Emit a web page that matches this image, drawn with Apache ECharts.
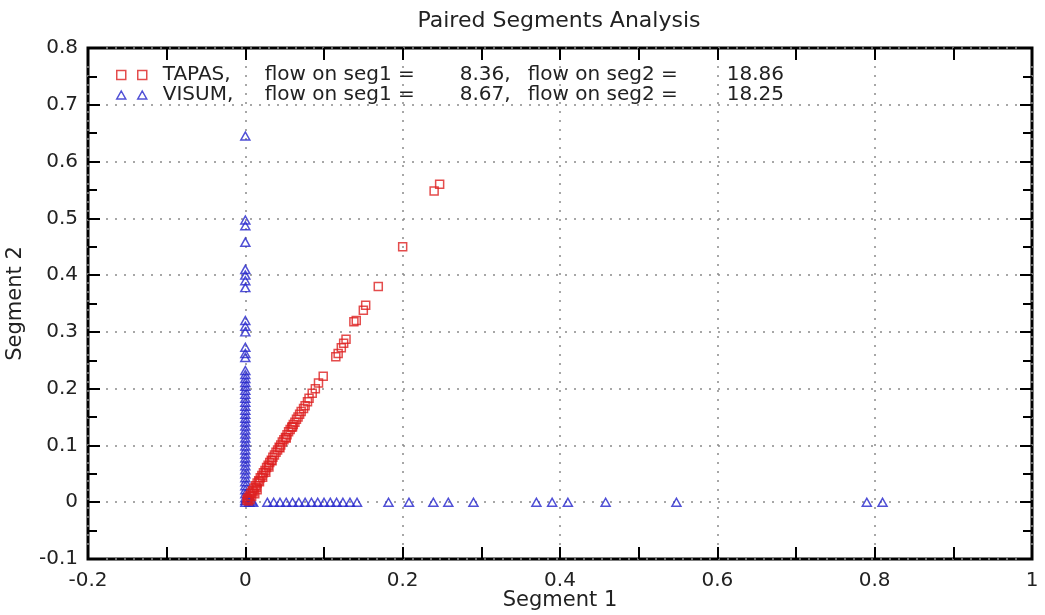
<!DOCTYPE html>
<html lang="en">
<head>
    <meta charset="UTF-8">
    <title>Paired Segments Analysis</title>
    <script src="https://cdn.jsdelivr.net/npm/echarts/dist/echarts.min.js"></script>
    <style>
        html, body { margin: 0; padding: 0; background: #fff; }
        #chart { width: 1045px; height: 615px; }
    </style>
</head>
<body>
    <div id="chart"></div>
    <script>
        var FONT = 'DejaVu Sans';

        // TAPAS: [segment 1, segment 2]
        var tapasPoints = [
            [0.247, 0.560], [0.240, 0.548], [0.200, 0.450], [0.169, 0.380],
            [0.153, 0.347], [0.150, 0.338], [0.141, 0.320], [0.138, 0.318],
            [0.128, 0.287], [0.125, 0.280], [0.122, 0.272], [0.118, 0.262],
            [0.115, 0.256], [0.099, 0.222], [0.093, 0.210], [0.089, 0.200],
            [0.085, 0.192], [0.081, 0.183], [0.079, 0.177], [0.076, 0.170],
            [0.074, 0.165], [0.071, 0.160], [0.069, 0.155], [0.067, 0.150],
            [0.065, 0.146], [0.063, 0.141], [0.061, 0.137], [0.059, 0.132],
            [0.057, 0.128], [0.055, 0.124], [0.053, 0.119], [0.051, 0.114],
            [0.049, 0.110], [0.047, 0.106], [0.045, 0.101], [0.043, 0.097],
            [0.041, 0.092], [0.039, 0.088], [0.037, 0.083], [0.035, 0.079],
            [0.033, 0.074], [0.031, 0.070], [0.029, 0.065], [0.027, 0.061],
            [0.025, 0.056], [0.023, 0.052], [0.021, 0.047], [0.019, 0.043],
            [0.017, 0.038], [0.015, 0.034], [0.013, 0.029], [0.011, 0.025],
            [0.009, 0.020], [0.007, 0.016], [0.005, 0.011], [0.003, 0.007],
            [0.002, 0.004], [0.010, 0.018], [0.014, 0.026], [0.018, 0.036],
            [0.008, 0.010], [0.012, 0.015], [0.006, 0.005], [0.015, 0.022],
            [0.004, 0.002], [0.022, 0.044], [0.030, 0.062], [0.026, 0.053],
            [0.034, 0.073], [0.044, 0.096], [0.052, 0.113], [0.060, 0.133]
        ];

        // VISUM: [segment 1, segment 2]
        var visumPoints = [
            [0, 0.645], [0, 0.497], [0, 0.487], [0, 0.458], [0, 0.410],
            [0, 0.400], [0, 0.390], [0, 0.378], [0, 0.320], [0, 0.310],
            [0, 0.300], [0, 0.273], [0, 0.262], [0, 0.255], [0, 0.232],
            [0, 0.225], [0, 0.218], [0, 0.211], [0, 0.204], [0, 0.197],
            [0, 0.190], [0, 0.183], [0, 0.176], [0, 0.169], [0, 0.162],
            [0, 0.155], [0, 0.148], [0, 0.141], [0, 0.134], [0, 0.127],
            [0, 0.120], [0, 0.113], [0, 0.106], [0, 0.099], [0, 0.092],
            [0, 0.085], [0, 0.078], [0, 0.071], [0, 0.064], [0, 0.057],
            [0, 0.050], [0, 0.043], [0, 0.036], [0, 0.029], [0, 0.022],
            [0, 0.015], [0, 0.008], [0, 0.003], [0, 0],
            [0.005, 0.004], [0.008, 0.002],
            [0.005, 0], [0.010, 0], [0.028, 0], [0.036, 0], [0.044, 0],
            [0.052, 0], [0.060, 0], [0.068, 0], [0.076, 0], [0.084, 0],
            [0.092, 0], [0.100, 0], [0.108, 0], [0.116, 0], [0.124, 0],
            [0.133, 0], [0.142, 0], [0.182, 0], [0.208, 0], [0.239, 0],
            [0.258, 0], [0.290, 0], [0.370, 0], [0.390, 0], [0.410, 0],
            [0.458, 0], [0.548, 0], [0.790, 0], [0.810, 0]
        ];

        var legendRows = [
            { name: 'TAPAS', seg1: '8.36', seg2: '18.86' },
            { name: 'VISUM', seg1: '8.67', seg2: '18.25' }
        ];

        var xTicks = { min: -0.2, max: 1, interval: 0.2 };
        var yTicks = { min: -0.1, max: 0.8, interval: 0.1 };

        var RED = '#dd1f1f';
        var BLUE = '#2424cc';
        var INK = '#222';
        var GRID_LINE = { show: true, lineStyle: { color: '#8a8a8a', type: [2, 7], width: 1.5 } };
        var TICK = { color: '#000', width: 2 };

        function fmtTick(v) {
            return String(Math.round(v * 10) / 10);
        }

        function baseAxis(t, minorLen, extra) {
            return Object.assign({
                type: 'value',
                min: t.min,
                max: t.max,
                interval: t.interval,
                axisLine: { show: false, onZero: false },
                axisTick: { show: true, inside: true, length: 12, lineStyle: TICK },
                minorTick: { show: true, splitNumber: 2, length: minorLen, lineStyle: TICK },
                splitLine: { show: false },
                axisLabel: { show: false }
            }, extra);
        }

        function seg(w, pad) {
            return { fontFamily: FONT, fontSize: 20, color: INK, width: w, align: 'left', lineHeight: 20, padding: [0, 0, 0, pad || 0] };
        }

        var chart = echarts.init(document.getElementById('chart'));

        var legendMap = {};
        legendRows.forEach(function (r) { legendMap[r.name] = r; });

        chart.setOption({
            animation: false,
            backgroundColor: '#fff',
            title: {
                text: 'Paired Segments Analysis',
                left: 554,
                textAlign: 'center',
                top: 5,
                textStyle: { fontFamily: FONT, fontSize: 22, fontWeight: 'normal', color: INK }
            },
            grid: {
                left: 88, right: 13, top: 48, bottom: 56,
                outerBoundsMode: 'none',
                show: true, borderColor: '#000', borderWidth: 3, backgroundColor: 'transparent'
            },
            legend: {
                orient: 'vertical',
                left: 111,
                top: 60,
                itemWidth: 30,
                itemHeight: 9,
                itemGap: 0,
                selectedMode: false,
                data: [
                    {
                        name: 'TAPAS',
                        icon: 'path://M0,0h9v9h-9z M21,0h9v9h-9z',
                        itemStyle: { color: 'transparent', borderColor: RED, borderWidth: 1.5 }
                    },
                    {
                        name: 'VISUM',
                        icon: 'path://M4.5,0L9,8H0Z M25.5,0L30,8H21Z',
                        itemStyle: { color: 'transparent', borderColor: BLUE, borderWidth: 1.5 }
                    }
                ],
                formatter: function (name) {
                    var r = legendMap[name];
                    return '{n|' + r.name + ',}{f|flow on seg1 =}{v1|' + r.seg1 + ',}{f2|flow on seg2 =}{v2|' + r.seg2 + '}';
                },
                textStyle: {
                    fontFamily: FONT,
                    fontSize: 20,
                    color: INK,
                    lineHeight: 20,
                    rich: {
                        n: seg(102, 11),
                        f: seg(195),
                        v1: seg(68),
                        f2: seg(199),
                        v2: seg(70)
                    }
                }
            },
            xAxis: [
                baseAxis(xTicks, 12, {
                    position: 'bottom',
                    name: 'Segment 1',
                    nameLocation: 'middle',
                    nameGap: 31,
                    nameMoveOverlap: false,
                    nameTextStyle: { fontFamily: FONT, fontSize: 21, color: INK },
                    splitLine: GRID_LINE,
                    axisLabel: {
                        show: true, margin: 12,
                        fontFamily: FONT, fontSize: 20, color: INK,
                        formatter: fmtTick
                    }
                }),
                baseAxis(xTicks, 12, { position: 'top' })
            ],
            yAxis: [
                baseAxis(yTicks, 9, {
                    position: 'left',
                    name: 'Segment 2',
                    nameLocation: 'middle',
                    nameGap: 62,
                    nameMoveOverlap: false,
                    nameTextStyle: { fontFamily: FONT, fontSize: 21, color: INK },
                    splitLine: GRID_LINE,
                    axisLabel: {
                        show: true, margin: 10,
                        fontFamily: FONT, fontSize: 20, color: INK,
                        formatter: fmtTick
                    }
                }),
                baseAxis(yTicks, 9, { position: 'right' })
            ],
            series: [
                {
                    name: 'VISUM',
                    type: 'scatter',
                    xAxisIndex: 0,
                    yAxisIndex: 0,
                    symbol: 'triangle',
                    symbolSize: [9, 8],
                    z: 2,
                    itemStyle: { color: 'transparent', borderColor: BLUE, borderWidth: 1.5 },
                    data: visumPoints
                },
                {
                    name: 'TAPAS',
                    type: 'scatter',
                    xAxisIndex: 0,
                    yAxisIndex: 0,
                    symbol: 'rect',
                    symbolSize: 8,
                    z: 3,
                    itemStyle: { color: 'transparent', borderColor: RED, borderWidth: 1.5 },
                    data: tapasPoints
                }
            ]
        });
    </script>
</body>
</html>
